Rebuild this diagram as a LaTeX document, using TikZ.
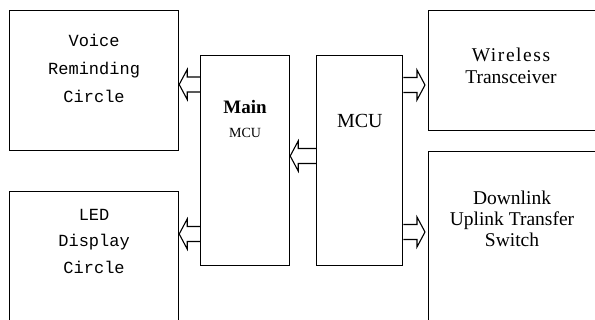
\documentclass[tikz,border=0pt]{standalone}
\usepackage{fontspec}
\setmainfont{Liberation Serif}
\newfontfamily\monofont{Liberation Mono}
\usetikzlibrary{calc,positioning}

\begin{document}
\begin{tikzpicture}[
  x=1pt, y=-1pt,
  box/.style={draw, line width=1.2pt, inner sep=0pt},
  monotext/.style={font=\monofont\fontsize{17}{28}\selectfont, align=center},
  serif/.style={font=\fontsize{19.5}{22}\selectfont, align=center},
  flow/.style={line width=1.1pt, to path={
    let \p1=(\tikztostart), \p2=(\tikztotarget), \n1={sign(\x2-\x1)} in
    (\x1,\y1+7.5pt) -- (\x2-\n1*8pt,\y1+7.5pt) -- (\x2-\n1*8pt,\y1+15pt) -- (\x2,\y1)
    -- (\x2-\n1*8pt,\y1-15pt) -- (\x2-\n1*8pt,\y1-7.5pt) -- (\x1,\y1-7.5pt)}}
]
\useasboundingbox (0,0) rectangle (595,320);
\clip (0,0) rectangle (595,320);

\node[box, minimum width=169pt, minimum height=140pt, anchor=north west] (voice) at (9,10) {};
\node[box, minimum width=169pt, minimum height=150pt, below=40pt of voice.south west, anchor=north west] (led) {};
\node[box, minimum width=89pt, minimum height=210pt, anchor=north west] (mainmcu) at (200,55) {};
\node[box, minimum width=86pt, minimum height=210pt, right=26pt of mainmcu.north east, anchor=north west] (mcu) {};
\node[box, minimum width=190pt, minimum height=120pt, anchor=north west] (wireless) at (428,10) {};
\node[box, minimum width=190pt, minimum height=190pt, below=20pt of wireless.south west, anchor=north west] (switch) {};

% labels
\node[monotext] at ([yshift=-58pt]voice.north) {Voice\\Reminding\\Circle};
\node[monotext, font=\monofont\fontsize{17}{26.5}\selectfont] at ([yshift=-50pt]led.north) {LED\\Display\\Circle};
\node[font=\bfseries\fontsize{19}{22}\selectfont] at ([yshift=-52pt]mainmcu.north) {Main};
\node[font=\fontsize{14}{16}\selectfont] at ([yshift=-78pt]mainmcu.north) {MCU};
\node[font=\fontsize{20}{24}\selectfont] at ([yshift=-66pt]mcu.north) {MCU};
\node[serif] at ([xshift=83pt, yshift=-56pt]wireless.north west) {\addfontfeature{LetterSpace=8}Wireless\\Transceiver};
\node[serif, font=\fontsize{19.5}{21}\selectfont] at ([xshift=84pt, yshift=-68pt]switch.north west) {Downlink\\Uplink Transfer\\Switch};

% buses
\draw[flow] ([yshift=-29.5pt]mainmcu.north west) to ([yshift=-29.5pt]voice.east |- mainmcu.north);
\draw[flow] ([yshift=-179pt]mainmcu.north west) to ([yshift=-179pt]led.east |- mainmcu.north);
\draw[flow] ([yshift=-101pt]mcu.north west) to ([yshift=-101pt]mainmcu.east |- mcu.north);
\draw[flow] ([yshift=-30pt]mcu.north east) to ([xshift=-3pt, yshift=-30pt]wireless.west |- mcu.north);
\draw[flow] ([yshift=-177pt]mcu.north east) to ([xshift=-3pt, yshift=-177pt]switch.west |- mcu.north);
\end{tikzpicture}
\end{document}
